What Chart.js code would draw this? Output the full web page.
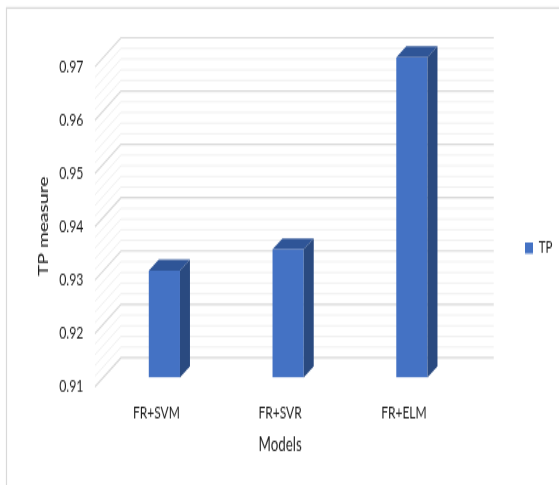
<!DOCTYPE html>
<html>
<head>
<meta charset="utf-8">
<title>TP measure by model</title>
<script src="https://cdn.jsdelivr.net/npm/chart.js@4"></script>
<style>
  html, body { margin: 0; padding: 0; background: #fff; }
  #chart { display: block; }
</style>
</head>
<body>
<!-- The drawing surface is taller on screen than in pixels, giving the tall, narrow lettering. -->
<canvas id="chart" width="559" height="328" style="width:559px;height:485px"></canvas>
<script>
const categories = ['FR+SVM', 'FR+SVR', 'FR+ELM'];
const tpValues = [0.93, 0.934, 0.97];
const seriesName = 'TP';
const axisMin = 0.91;
const axisMax = 0.97;
const majorStep = 0.01;
const minorStep = 0.002;

const labelFont = 'Lato, "Open Sans", sans-serif';
const textColor = '#1f1f1f';
const barFront = '#4472c4';
const barTop = '#2f5597';
const barSide = '#2a4a80';
const gridMajor = '#d9d9d9';
const gridMinor = '#f0f0f0';
const frameColor = '#d9d9d9';

// Converts an on-screen vertical distance to canvas pixels.
const stretch = 485 / 328;
const vy = (px) => px / stretch;

// Oblique projection used for the walls and the bar depth.
const barDepth = { x: 10, y: vy(-11) };
const wall = { frontX: -7.5, frontY: vy(9.4), backX: 18.5, backY: vy(-19.6), backRightX: 20 };

// Card outline, side wall and back wall, painted beneath the bars.
const backdrop = {
  id: 'backdrop',
  beforeDatasetsDraw(chart) {
    const { ctx, chartArea: area, scales: { y } } = chart;
    ctx.save();
    ctx.strokeStyle = frameColor;
    ctx.lineWidth = 1.2;
    ctx.beginPath();
    ctx.moveTo(6.5, chart.height);
    ctx.lineTo(6.5, vy(8));
    ctx.lineTo(chart.width, vy(8));
    ctx.stroke();

    const count = Math.round((axisMax - axisMin) / minorStep);
    const perMajor = Math.round(majorStep / minorStep);
    for (let i = count; i >= 0; i--) {
      const py = y.getPixelForValue(axisMin + i * minorStep);
      const major = i % perMajor === 0;
      ctx.strokeStyle = major ? gridMajor : gridMinor;
      ctx.lineWidth = major ? 1.2 : 1;
      ctx.beginPath();
      ctx.moveTo(area.left + wall.frontX, py + wall.frontY);
      ctx.lineTo(area.left + wall.backX, py + wall.backY);
      ctx.lineTo(area.right + wall.backRightX, py + wall.backY);
      ctx.stroke();
    }
    ctx.restore();
  }
};

// Top and side faces of each bar, taken from the bar element's geometry.
const barFaces = {
  id: 'barFaces',
  afterDatasetsDraw(chart) {
    const { ctx } = chart;
    chart.getDatasetMeta(0).data.forEach((bar) => {
      const half = bar.width / 2;
      const l = bar.x - half, r = bar.x + half, t = bar.y, b = bar.base;
      ctx.fillStyle = barTop;
      ctx.beginPath();
      ctx.moveTo(l, t);
      ctx.lineTo(l + barDepth.x, t + barDepth.y);
      ctx.lineTo(r + barDepth.x, t + barDepth.y);
      ctx.lineTo(r, t);
      ctx.closePath();
      ctx.fill();
      ctx.fillStyle = barSide;
      ctx.beginPath();
      ctx.moveTo(r, t);
      ctx.lineTo(r + barDepth.x, t + barDepth.y);
      ctx.lineTo(r + barDepth.x, b + barDepth.y);
      ctx.lineTo(r, b);
      ctx.closePath();
      ctx.fill();
    });
  }
};

// Places the legend beside the plot and nudges the axis titles to sit on the projected walls.
const placement = {
  id: 'placement',
  afterLayout(chart) {
    const legend = chart.legend;
    const width = legend.right - legend.left;
    const height = legend.bottom - legend.top;
    legend.left = 525 - legend.options.labels.padding;
    legend.right = legend.left + width;
    legend.top = vy(248) - height / 2;
    legend.bottom = legend.top + height;

    const shiftTitle = (scale, dx, dy) => {
      if (scale.$shifted) return;
      const draw = scale.drawTitle.bind(scale);
      scale.drawTitle = () => {
        chart.ctx.save();
        chart.ctx.translate(dx, dy);
        draw();
        chart.ctx.restore();
      };
      scale.$shifted = true;
    };
    shiftTitle(chart.scales.x, -8, 0);
    shiftTitle(chart.scales.y, 0, vy(9));
  }
};

new Chart(document.getElementById('chart'), {
  type: 'bar',
  data: {
    labels: categories,
    datasets: [{
      label: seriesName,
      data: tpValues,
      base: axisMin,
      backgroundColor: barFront,
      borderWidth: 0,
      barPercentage: 0.5,
      categoryPercentage: 0.504
    }]
  },
  plugins: [backdrop, barFaces, placement],
  options: {
    responsive: false,
    animation: false,
    layout: { padding: { top: vy(57.3), right: 42.8, bottom: 0, left: 0 } },
    plugins: {
      tooltip: { enabled: false },
      legend: {
        position: 'right',
        labels: {
          boxWidth: 8,
          boxHeight: vy(11),
          padding: 5,
          color: textColor,
          font: { family: labelFont, size: 11.5 }
        }
      }
    },
    scales: {
      x: {
        grid: { display: false, drawTicks: false },
        border: { display: false },
        afterFit(scale) { scale.height = vy(107.7); },
        ticks: {
          color: textColor,
          padding: 17,
          labelOffset: -8,
          maxRotation: 0,
          font: { family: labelFont, size: 12 }
        },
        title: {
          display: true,
          text: 'Models',
          color: textColor,
          padding: { top: 0, bottom: 19 },
          font: { family: labelFont, size: 13.4 }
        }
      },
      y: {
        min: axisMin,
        max: axisMax,
        grid: { display: false, drawTicks: false },
        border: { display: false },
        afterFit(scale) { scale.width = 102.5; },
        ticks: {
          stepSize: majorStep,
          color: textColor,
          padding: 19,
          labelOffset: vy(9.4),
          font: { family: labelFont, size: 12.3 }
        },
        title: {
          display: true,
          text: 'TP measure',
          color: textColor,
          padding: { top: 36, bottom: 0 },
          font: { family: labelFont, size: 13, weight: '500' }
        }
      }
    }
  }
});
</script>
</body>
</html>
